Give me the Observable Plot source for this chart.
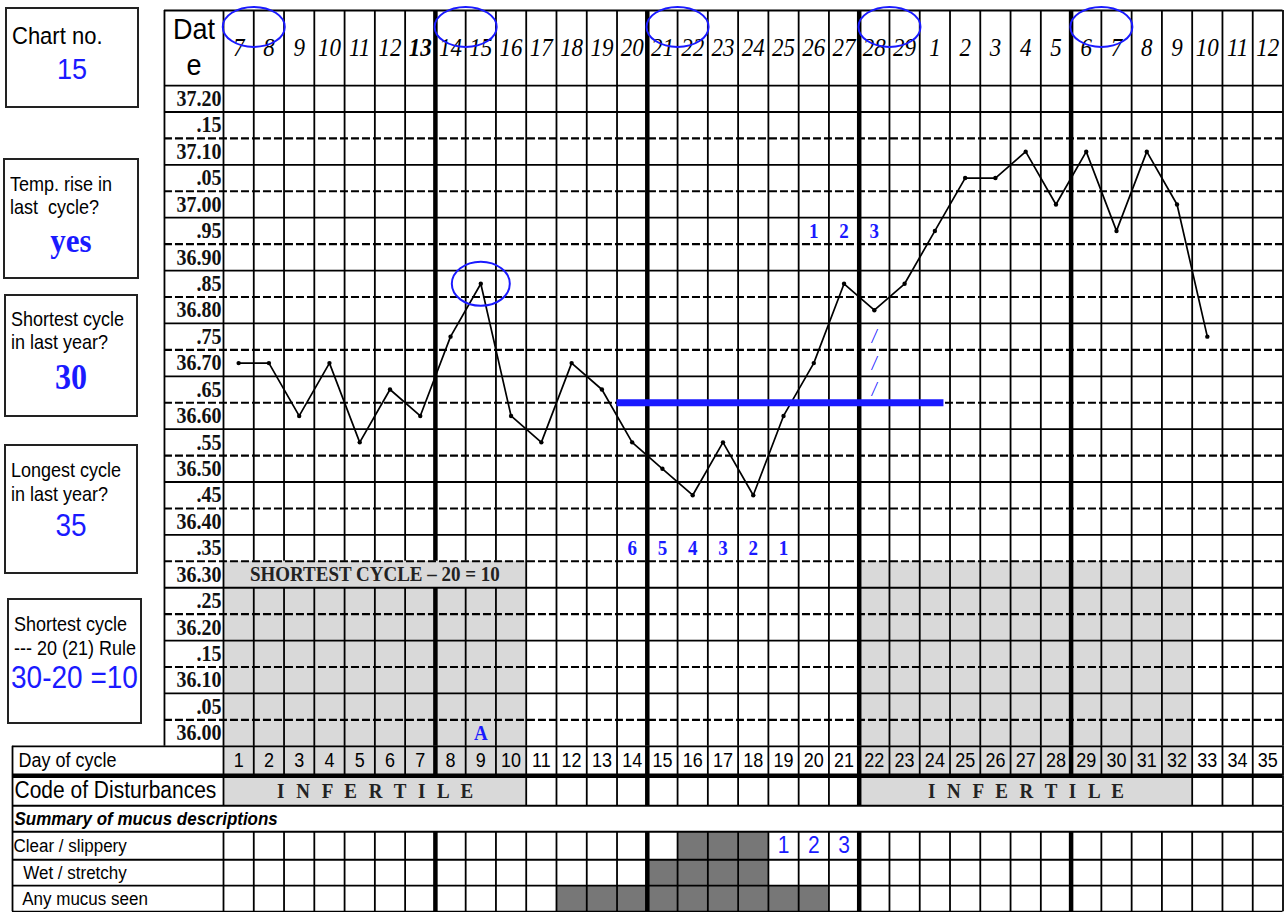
<!DOCTYPE html>
<html>
<head>
<meta charset="utf-8">
<script src="https://cdn.jsdelivr.net/npm/d3@7"></script>
<script src="https://cdn.jsdelivr.net/npm/@observablehq/plot@0.6"></script>
<style>
  body { margin: 0; background: #fff; }
  #wrap { position: relative; width: 1287px; height: 912px; overflow: hidden; background: #fff; }
  #wrap svg { position: absolute; left: 0; top: 0; }
  .box { position: absolute; border: 2px solid #222; box-sizing: border-box; background: #fff;
         font-family: "Liberation Sans", Arial, sans-serif; color: #000; }
  .box .ln { position: absolute; white-space: nowrap; transform: scaleY(1.12); }
  .box .c { left: 0; right: 0; text-align: center; }
  .blue { color: #1a1aff; }
  .serif { font-family: "Liberation Serif", "Times New Roman", serif; font-weight: bold; }
</style>
</head>
<body>
<div id="wrap">
  <div class="box" style="left:5px;top:7px;width:134px;height:101px">
    <div class="ln" style="left:5px;top:14px;font-size:22px;line-height:26px">Chart no.</div>
    <div class="ln c blue" style="top:44px;font-size:27px;line-height:32px">15</div>
  </div>
  <div class="box" style="left:3px;top:158px;width:136px;height:121px">
    <div class="ln" style="left:5px;top:13px;font-size:18px;line-height:22px">Temp. rise in</div>
    <div class="ln" style="left:5px;top:36px;font-size:18px;line-height:22px">last&nbsp; cycle?</div>
    <div class="ln c blue serif" style="top:63px;font-size:31px;line-height:36px">yes</div>
  </div>
  <div class="box" style="left:4px;top:294px;width:134px;height:123px">
    <div class="ln" style="left:5px;top:12px;font-size:18px;line-height:22px">Shortest cycle</div>
    <div class="ln" style="left:5px;top:35px;font-size:18px;line-height:22px">in last year?</div>
    <div class="ln c blue serif" style="top:62px;font-size:32px;line-height:38px">30</div>
  </div>
  <div class="box" style="left:4px;top:444px;width:134px;height:130px">
    <div class="ln" style="left:5px;top:13px;font-size:18px;line-height:22px">Longest cycle</div>
    <div class="ln" style="left:5px;top:37px;font-size:18px;line-height:22px">in last year?</div>
    <div class="ln c blue" style="top:63px;font-size:28px;line-height:34px">35</div>
  </div>
  <div class="box" style="left:7px;top:598px;width:135px;height:126px">
    <div class="ln" style="left:5px;top:13px;font-size:18px;line-height:22px">Shortest cycle</div>
    <div class="ln" style="left:5px;top:37px;font-size:18px;line-height:22px">--- 20 (21) Rule</div>
    <div class="ln c blue" style="top:61px;font-size:28px;line-height:34px">30-20 =10</div>
  </div>
</div>
<script>
// ---------------- DATA ----------------
const days = d3.range(1, 36);                       // day of cycle 1..35
const dateLabels = ["7","8","9","10","11","12","13","14","15","16","17","18","19","20","21","22","23","24","25","26","27","28","29",
                    "1","2","3","4","5","6","7","8","9","10","11","12"];
const boldDateDay = 7;                              // date "13" printed bold
const tempTicks = [37.20,37.15,37.10,37.05,37.00,36.95,36.90,36.85,36.80,36.75,36.70,36.65,36.60,36.55,36.50,36.45,36.40,36.35,36.30,36.25,36.20,36.15,36.10,36.05,36.00];
const tempTickLabels = ["37.20",".15","37.10",".05","37.00",".95","36.90",".85","36.80",".75","36.70",".65","36.60",".55","36.50",".45","36.40",".35","36.30",".25","36.20",".15","36.10",".05","36.00"];
const bbtDays  = d3.range(1, 34);
const bbtTemps = [36.70,36.70,36.60,36.70,36.55,36.65,36.60,36.75,36.85,36.60,36.55,36.70,36.65,36.55,36.50,36.45,36.55,36.45,36.60,36.70,36.85,36.80,36.85,36.95,37.05,37.05,37.10,37.00,37.10,36.95,37.10,37.00,36.75];
const infertilePhases = [[1, 10], [22, 32]];        // shaded infertile days
const infertileLabel = "I N F E R T I L E";
const shortestRule = {from: 1, to: 10, temp: 36.30, text: "SHORTEST CYCLE – 20 = 10"};
const clearSlipperyDays = [16, 17, 18];
const wetStretchyDays = [15, 16, 17, 18];
const anyMucusDays = [12, 13, 14, 15, 16, 17, 18, 19, 20];
const peakCountDays = [19, 20, 21];
const peakCountLabels = ["1", "2", "3"];
const lowSixDays = [14, 15, 16, 17, 18, 19];
const lowSixLabels = ["6", "5", "4", "3", "2", "1"];
const lowSixTemp = 36.35;
const riseDays = [20, 21, 22];
const riseLabels = ["1", "2", "3"];
const riseTemp = 36.95;
const slashDay = 22;
const slashTemps = [36.75, 36.70, 36.65];
const coverline = {temp: 36.625, from: 14, to: 24};
const circledDatePairs = [1, 8, 15, 22, 29];       // first day of each circled pair of dates
const peakDay = 9, peakTemp = 36.85, peakLetterDay = 9, peakLetter = "A", peakLetterTemp = 36.00;
const tableRowLabels = ["Day of cycle", "Code of Disturbances", "Summary of mucus descriptions", "Clear / slippery", " Wet / stretchy", " Any mucus seen"];

// ---------------- LAYOUT ----------------
const BLUE = "#1a1aff", LIGHT = "#d9d9d9", DARK = "#777777";
const SERIF = "'Liberation Serif','Times New Roman',serif";
const SANS = "'Liberation Sans',Arial,sans-serif";
const STEP = 0.05, ROW_PX = 26.43;
const T_TOP = 37.225, N_ROWS = 25, T_BOT = T_TOP - N_ROWS * STEP;
const HEADER_ROWS = 2.84;
const TABLE_ROW_SIZES = [1.11, 1.14, 0.98, 1.06, 0.98, 0.99];
const yHeaderTop = T_TOP + HEADER_ROWS * STEP;
const tableEdges = [T_BOT];
TABLE_ROW_SIZES.forEach(s => tableEdges.push(tableEdges[tableEdges.length - 1] - s * STEP));
const yBottom = tableEdges[tableEdges.length - 1];
const totalRows = HEADER_ROWS + N_ROWS + d3.sum(TABLE_ROW_SIZES);
const hdr = r => yHeaderTop - r * STEP;            // r = grid rows below header top
const tmid = i => (tableEdges[i] + tableEdges[i + 1]) / 2;
const LABEL_LEFT = -1.45, TABLE_LEFT = -6.47, RIGHT = 35.5;
const colEdges = d3.range(0, 36).map(i => i + 0.5);
const thickEdges = [7.5, 14.5, 21.5, 28.5];

// vertical grid segments
const vsegs = [];
const inside = (b, a, z) => b > a - 0.5 && b < z + 0.5;
for (const b of colEdges) {
  if (inside(b, shortestRule.from, shortestRule.to)) {
    vsegs.push({x: b, y1: yHeaderTop, y2: shortestRule.temp + STEP / 2});
    vsegs.push({x: b, y1: shortestRule.temp - STEP / 2, y2: T_BOT});
  } else vsegs.push({x: b, y1: yHeaderTop, y2: T_BOT});
  vsegs.push({x: b, y1: tableEdges[0], y2: tableEdges[1]});
  if (!infertilePhases.some(([a, z]) => inside(b, a, z))) vsegs.push({x: b, y1: tableEdges[1], y2: tableEdges[2]});
  if (b === RIGHT) vsegs.push({x: b, y1: tableEdges[2], y2: tableEdges[3]});
  vsegs.push({x: b, y1: tableEdges[3], y2: tableEdges[6]});
}
vsegs.push({x: LABEL_LEFT, y1: yHeaderTop, y2: T_BOT});
vsegs.push({x: TABLE_LEFT, y1: T_BOT, y2: yBottom});
vsegs.forEach(s => s.thick = thickEdges.includes(s.x));

// horizontal grid lines
const hsolid = [], hdash = [];
hsolid.push({y: yHeaderTop, x1: LABEL_LEFT, x2: RIGHT, w: 1.9});
d3.range(0, N_ROWS + 1).forEach(k => {
  const y = T_TOP - k * STEP;
  if (k % 2 === 0 && k > 0 && k < N_ROWS) hdash.push({y, x1: LABEL_LEFT, x2: RIGHT});
  else hsolid.push({y, x1: k === N_ROWS ? TABLE_LEFT : LABEL_LEFT, x2: RIGHT, w: 1.8});
});
tableEdges.slice(1).forEach((y, i) => hsolid.push({y, x1: TABLE_LEFT, x2: RIGHT, w: i === 0 ? 4.5 : 1.9}));

const bbt = bbtDays.map((d, i) => ({day: d, temp: bbtTemps[i]}));
const mucusCells = [[clearSlipperyDays, 3], [wetStretchyDays, 4], [anyMucusDays, 5]]
  .flatMap(([ds, row]) => ds.map(day => ({day, row})));
const dateData = days.map((d, i) => ({day: d, label: dateLabels[i]}));

function ellipse(rx, ry) {
  const k = 0.5523;
  return {draw(ctx) {
    ctx.moveTo(rx, 0);
    ctx.bezierCurveTo(rx, ry * k, rx * k, ry, 0, ry);
    ctx.bezierCurveTo(-rx * k, ry, -rx, ry * k, -rx, 0);
    ctx.bezierCurveTo(-rx, -ry * k, -rx * k, -ry, 0, -ry);
    ctx.bezierCurveTo(rx * k, -ry, rx, -ry * k, rx, 0);
    ctx.closePath();
  }};
}

const svg = Plot.plot({
  width: 1287, height: 912, margin: 0,
  style: {background: "transparent", overflow: "visible"},
  x: {type: "linear", domain: [0.5, 35.5], range: [223, 1282.5], axis: null},
  y: {type: "linear", domain: [yHeaderTop, yBottom], range: [10, 10 + totalRows * ROW_PX], axis: null},
  marks: [
    // shading
    Plot.rect(infertilePhases, {x1: d => d[0] - 0.5, x2: d => d[1] + 0.5, y1: shortestRule.temp + STEP / 2, y2: tableEdges[2], fill: LIGHT}),
    Plot.rect(mucusCells, {x1: d => d.day - 0.5, x2: d => d.day + 0.5, y1: d => tableEdges[d.row], y2: d => tableEdges[d.row + 1], fill: DARK}),
    // grid
    Plot.ruleY(hdash, {y: "y", x1: "x1", x2: "x2", stroke: "#000", strokeWidth: 2.1, strokeDasharray: "8,3"}),
    Plot.ruleY(hsolid, {y: "y", x1: "x1", x2: "x2", stroke: "#000", strokeWidth: "w"}),
    Plot.ruleX(vsegs.filter(s => !s.thick), {x: "x", y1: "y1", y2: "y2", stroke: "#000", strokeWidth: 1.8}),
    Plot.ruleX(vsegs.filter(s => s.thick), {x: "x", y1: "y1", y2: "y2", stroke: "#000", strokeWidth: 4.5}),
    // header
    Plot.text(["Dat"], {x: (LABEL_LEFT + 0.5) / 2, y: hdr(0.72), text: d => d, fontFamily: SANS, fontSize: 27, fill: "#000"}),
    Plot.text(["e"], {x: (LABEL_LEFT + 0.5) / 2, y: hdr(2.08), text: d => d, fontFamily: SANS, fontSize: 27, fill: "#000"}),
    Plot.text(dateData.filter(d => d.day !== boldDateDay), {x: "day", y: hdr(1.42), text: "label", fontFamily: SERIF, fontStyle: "italic", fontSize: 23, fill: "#000"}),
    Plot.text(dateData.filter(d => d.day === boldDateDay), {x: "day", y: hdr(1.42), text: "label", fontFamily: SERIF, fontStyle: "italic", fontWeight: "bold", fontSize: 23, fill: "#000"}),
    // y labels
    Plot.text(tempTicks, {x: 0.5, y: d => d, text: (d, i) => tempTickLabels[i], textAnchor: "end", dx: -2, fontFamily: SERIF, fontWeight: "bold", fontSize: 20, fill: "#111"}),
    // annotations in grid
    Plot.text([shortestRule], {x: d => (d.from + d.to) / 2, y: "temp", text: "text", fontFamily: SERIF, fontWeight: "bold", fontSize: 19, fill: "#222"}),
    Plot.text([peakLetter], {x: peakLetterDay, y: peakLetterTemp, text: d => d, fontFamily: SERIF, fontWeight: "bold", fontSize: 19, fill: BLUE}),
    Plot.text(lowSixDays, {x: d => d, y: lowSixTemp, text: (d, i) => lowSixLabels[i], fontFamily: SERIF, fontWeight: "bold", fontSize: 19, fill: BLUE}),
    Plot.text(riseDays, {x: d => d, y: riseTemp, text: (d, i) => riseLabels[i], fontFamily: SERIF, fontWeight: "bold", fontSize: 19, fill: BLUE}),
    Plot.text(slashTemps, {x: slashDay, y: d => d, text: () => "/", fontFamily: SERIF, fontStyle: "italic", fontSize: 18, fill: BLUE}),
    // bottom table
    Plot.text(days, {x: d => d, y: tmid(0), text: d => String(d), fontFamily: SANS, fontSize: 18, fill: "#000"}),
    Plot.text(infertilePhases, {x: d => (d[0] + d[1]) / 2, y: tmid(1), text: () => infertileLabel, fontFamily: SERIF, fontWeight: "bold", fontSize: 19, fill: "#222", dx: 2}),
    Plot.text([tableRowLabels[0]], {x: TABLE_LEFT, dx: 6, y: tmid(0), text: d => d, textAnchor: "start", fontFamily: SANS, fontSize: 18, fill: "#000"}),
    Plot.text([tableRowLabels[1]], {x: TABLE_LEFT, dx: 2, y: tmid(1), text: d => d, textAnchor: "start", fontFamily: SANS, fontSize: 21, fill: "#000"}),
    Plot.text([tableRowLabels[2]], {x: TABLE_LEFT, dx: 2, y: tmid(2), text: d => d, textAnchor: "start", fontFamily: SANS, fontStyle: "italic", fontWeight: "bold", fontSize: 17, fill: "#000"}),
    Plot.text([tableRowLabels[3]], {x: TABLE_LEFT, dx: 1, y: tmid(3), text: d => d, textAnchor: "start", fontFamily: SANS, fontSize: 17, fill: "#000"}),
    Plot.text([tableRowLabels[4]], {x: TABLE_LEFT, dx: 6, y: tmid(4), text: d => d, textAnchor: "start", fontFamily: SANS, fontSize: 17, fill: "#000"}),
    Plot.text([tableRowLabels[5]], {x: TABLE_LEFT, dx: 6, y: tmid(5), text: d => d, textAnchor: "start", fontFamily: SANS, fontSize: 17, fill: "#000"}),
    Plot.text(peakCountDays, {x: d => d, y: tmid(3), text: (d, i) => peakCountLabels[i], fontFamily: SANS, fontSize: 21, fill: BLUE}),
    // temperature curve
    Plot.line(bbt, {x: "day", y: "temp", stroke: "#000", strokeWidth: 1.7}),
    Plot.dot(bbt, {x: "day", y: "temp", r: 2.2, fill: "#000"}),
    Plot.ruleY([coverline], {y: "temp", x1: d => d.from - 0.5, x2: d => d.to + 0.3, stroke: BLUE, strokeWidth: 7}),
    // circles
    Plot.dot(circledDatePairs, {x: d => d + 0.5, y: hdr(0.62), r: 5, symbol: ellipse(31, 20), fill: "none", stroke: BLUE, strokeWidth: 2}),
    Plot.dot([peakDay], {x: d => d, y: peakTemp, r: 5, symbol: ellipse(29, 22), fill: "none", stroke: BLUE, strokeWidth: 2})
  ]
});
document.getElementById("wrap").prepend(svg);
svg.querySelectorAll("text").forEach(t => {
  if (t.textContent === infertileLabel) t.setAttribute("letter-spacing", "3.5");
  const tr = t.getAttribute("transform");
  if (tr) t.setAttribute("transform", tr + " scale(1,1.12)");
});
</script>
</body>
</html>
